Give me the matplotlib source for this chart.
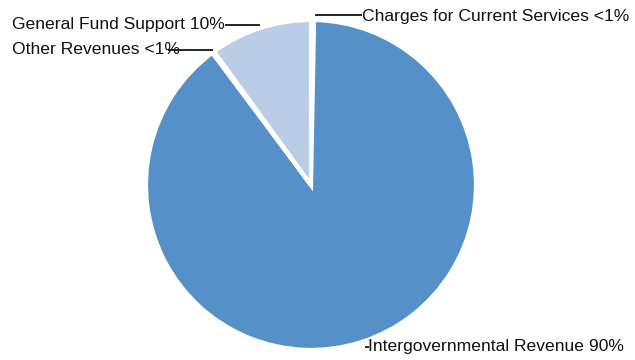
import matplotlib
matplotlib.use("Agg")
import matplotlib.pyplot as plt

# slices in clockwise order starting at 12 o'clock
categories = ["Charges for Current Services", "Intergovernmental Revenue",
              "Other Revenues", "General Fund Support"]
shares = [0.3, 89.5, 0.2, 10.0]
share_labels = ["<1%", "90%", "<1%", "10%"]
colors = ["#5590C8", "#5590C8", "#5590C8", "#B9CDE7"]

plt.rcParams["font.family"] = ["Liberation Sans", "DejaVu Sans"]

fig = plt.figure(figsize=(6.35, 3.6), dpi=100)
ax = fig.add_axes([0, 0, 1, 1])

ax.pie(shares, colors=colors, startangle=90, counterclock=False, radius=1.0,
       wedgeprops=dict(edgecolor="white", linewidth=3))

ax.set_xlim(-1.885, 1.964)
ax.set_ylim(-1.061, 1.121)
ax.set_aspect("equal")
ax.axis("off")


def px(x, y):
    # pixel position in the 635x360 image -> data coordinates
    return ((x - 311) / 165.0, (185 - y) / 165.0)


# (line start, line end, text anchor, ha)
label_layout = [
    ((315, 15), (362, 15), (362, 17), "left"),
    ((365, 347), (369, 347), (368, 347), "left"),
    ((213, 50), (168, 50), (12, 50), "left"),
    ((260, 25), (225, 25), (225, 25), "right"),
]

for name, lab, (p0, p1, t, ha) in zip(categories, share_labels, label_layout):
    ax.plot(*zip(px(*p0), px(*p1)), color="black", lw=1.2, solid_capstyle="butt")
    ax.text(*px(*t), f"{name} {lab}", ha=ha, va="center", fontsize=12.6,
            color="#111111")

fig.savefig("out.png", dpi=100)
